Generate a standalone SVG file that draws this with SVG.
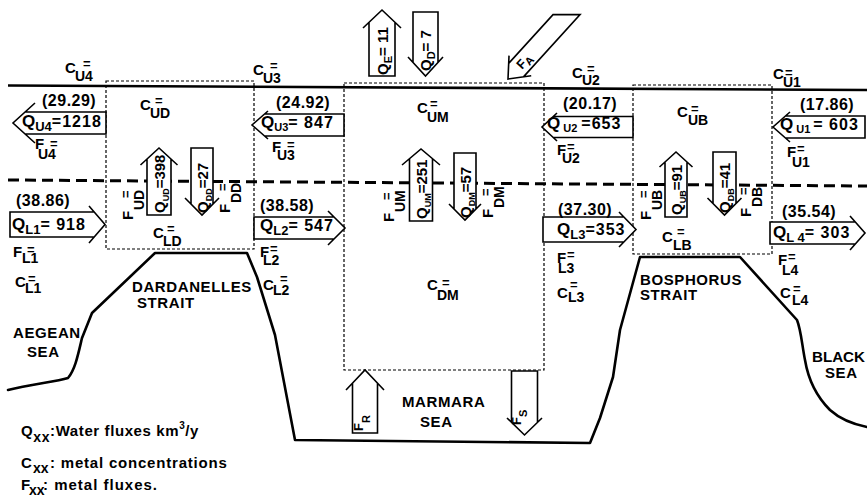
<svg xmlns="http://www.w3.org/2000/svg" width="867" height="497" viewBox="0 0 867 497">
<style>
.b{font-family:"Liberation Sans",Arial,Helvetica,sans-serif;font-weight:bold;fill:#000}
.m{font-size:15px}
.s{font-size:14px}
.e{font-size:13px}
.t{font-size:9px}
.n{font-size:16px;letter-spacing:0.5px}
.qq{font-size:16px;letter-spacing:1px}
.qb{font-size:17px}
.ss{font-size:13px}
.p{font-size:15px;letter-spacing:0.6px}
.coast{fill:none;stroke:#000;stroke-width:2.6;stroke-linejoin:round;stroke-linecap:round}
.box{fill:none;stroke:#000;stroke-width:1.2;stroke-dasharray:3 2}
.ar{fill:#fff;stroke:#000;stroke-width:1.6;stroke-linejoin:miter}
</style>
<rect width="867" height="497" fill="#fff"/>

<g id="coast">
<path class="coast" d="M8,390 C30,384 55,382 68,378 C75,370 78,355 82,338 L92,313 L155,253 L247,253 L257,277 L275,335 L295,440 L590,443 L600,418 L613,377 L620,330 L640,257 L740,257 L797,320 C801,330 802,345 805,360 C808,378 815,395 830,410 C840,419 852,424 867,427"/>
</g>

<g id="levels">
<path d="M8,85.5 L867,90" stroke="#000" stroke-width="2.6" fill="none"/>
<path d="M8,180 L867,186" stroke="#000" stroke-width="3" stroke-dasharray="11 6" fill="none"/>
</g>

<g id="box-dardanelles"><rect class="box" x="106" y="81" width="148" height="168"/></g>
<g id="box-marmara"><rect class="box" x="344" y="83" width="200" height="287"/></g>
<g id="box-bosphorus"><rect class="box" x="633" y="85" width="139" height="169"/></g>

<g id="connectors">
<path class="ar" d="M363,28 L382,10 L401,28 M395,22.3 L395,76 L369,76 L369,22.3"/>
<path class="ar" d="M408,57 L425.5,76 L443,57 M438,62.4 L438,12 L413,12 L413,62.4"/>
<path class="ar" d="M140.5,165 L159,148 L177.5,165 M171,159 L171,215 L147,215 L147,159"/>
<path class="ar" d="M185,198 L202,215 L219,198 M213,204 L213,148 L191,148 L191,204"/>
<path class="ar" d="M402,165 L421,149 L440,165 M432.5,158.7 L432.5,221 L409.5,221 L409.5,158.7"/>
<path class="ar" d="M449,204 L465,220 L481,204 M476,209 L476,153 L454,153 L454,209"/>
<path class="ar" d="M659.5,167 L676,152 L692.5,167 M687,162 L687,217 L665,217 L665,162"/>
<path class="ar" d="M707.5,198 L724.5,215 L741.5,198 M736,203.5 L736,152 L713,152 L713,203.5"/>
<path class="ar" d="M346,390 L365,370 L384,390 M377.5,383.2 L377.5,433 L352.5,433 L352.5,383.2"/>
<path class="ar" d="M507,418 L524.5,435 L542,418 M537.5,422.4 L537.5,371 L511.5,371 L511.5,422.4"/>
<path class="ar" d="M35,103 L13,123 L35,143 M25.1,112 L106,112 L106,134 L25.1,134"/>
<path class="ar" d="M268,111 L252,125 L268,139 M264.6,114 L344,114 L344,136 L264.6,136"/>
<path class="ar" d="M557,113 L542,127 L557,141 M553.3,116.5 L633,116.5 L633,137.5 L553.3,137.5"/>
<path class="ar" d="M790,112 L773,127 L790,142 M785.5,116 L865,116 L865,138 L785.5,138"/>
<path class="ar" d="M89,206 L105,224.5 L89,243 M94.2,212 L10,212 L10,237 L94.2,237"/>
<path class="ar" d="M328,211 L345,228 L328,245 M334,217 L254,217 L254,239 L334,239"/>
<path class="ar" d="M619,212 L636,229.5 L619,247 M623.9,217 L543,217 L543,242 L623.9,242"/>
<path class="ar" d="M850,216 L865,233 L850,250 M855.3,222 L770,222 L770,244 L855.3,244"/>
<path class="ar" transform="translate(508,79) rotate(132.3)" d="M-18,-15 L0,0 L-18,15 M-12,10 L-77.9,10 L-96.1,-10 L-12,-10"/>
</g>

<g id="flux-labels">
<text class="b m" transform="translate(387.5,75) rotate(-90)">Q<tspan style="font-size:11px" dy="4">E</tspan><tspan dy="-4">= 11</tspan></text>
<text class="b m" transform="translate(431,71) rotate(-90)">Q<tspan style="font-size:11px" dy="4">D</tspan><tspan dy="-4">= 7</tspan></text>
<text class="b m" transform="translate(164.5,213) rotate(-90)">Q<tspan class="t" dy="4">UD</tspan><tspan dy="-4">=398</tspan></text>
<text class="b m" transform="translate(207.5,213) rotate(-90)">Q<tspan class="t" dy="4">DD</tspan><tspan dy="-4">=27</tspan></text>
<text class="b m" transform="translate(426.5,219) rotate(-90)">Q<tspan class="t" dy="4">UM</tspan><tspan dy="-4">=251</tspan></text>
<text class="b m" transform="translate(470.5,218) rotate(-90)">Q<tspan class="t" dy="4">DM</tspan><tspan dy="-4">=57</tspan></text>
<text class="b m" transform="translate(681.5,215) rotate(-90)">Q<tspan class="t" dy="4">UB</tspan><tspan dy="-4">=91</tspan></text>
<text class="b m" transform="translate(730,213) rotate(-90)">Q<tspan class="t" dy="4">DB</tspan><tspan dy="-4">=41</tspan></text>
<text class="b" style="font-size:13px" transform="translate(363,431) rotate(-90)">F<tspan style="font-size:11px" dy="7">R</tspan></text>
<text class="b" style="font-size:13px" transform="translate(521,425) rotate(-90)">F<tspan style="font-size:11px" dy="6">S</tspan></text>
<text class="b" style="font-size:13px" transform="translate(522,70) rotate(-47.7)">F<tspan style="font-size:11px" dy="3">A</tspan></text>

<text class="b n" x="42" y="106">(29.29)</text>
<text class="b qb" x="22" y="127">Q<tspan class="ss" dy="4">U4</tspan><tspan class="qq" dy="-4">=1218</tspan></text>
<text class="b n" x="276" y="108">(24.92)</text>
<text class="b qb" x="261" y="128">Q<tspan style="font-size:11px" dy="3">U3</tspan><tspan class="qq" dy="-3">= 847</tspan></text>
<text class="b n" x="563" y="109">(20.17)</text>
<text class="b qb" x="547" y="129">Q<tspan style="font-size:11px" dx="3" dy="3">U2</tspan><tspan class="qq" dx="4" dy="-3">=653</tspan></text>
<text class="b n" x="800" y="110">(17.86)</text>
<text class="b qb" x="780" y="130">Q<tspan style="font-size:11px" dx="3" dy="3">U1</tspan><tspan class="qq" dx="3" dy="-3">= 603</tspan></text>

<text class="b n" x="16" y="206">(38.86)</text>
<text class="b qb" x="12" y="230">Q<tspan class="ss" dy="4">L1</tspan><tspan class="qq" dy="-4">= 918</tspan></text>
<text class="b n" x="260" y="211">(38.58)</text>
<text class="b qb" x="260" y="231">Q<tspan class="ss" dy="4">L2</tspan><tspan class="qq" dy="-4">= 547</tspan></text>
<text class="b n" x="558" y="215">(37.30)</text>
<text class="b qb" x="557" y="235">Q<tspan class="ss" dy="4">L3</tspan><tspan class="qq" dy="-4">=353</tspan></text>
<text class="b n" x="782" y="217">(35.54)</text>
<text class="b qb" x="773" y="238">Q<tspan class="ss" dy="4">L 4</tspan><tspan class="qq" dy="-4">= 303</tspan></text>
</g>

<g id="conc-labels">
<text class="b m" x="65" y="73">C<tspan class="s" x="75" y="81">U4</tspan><tspan class="e" x="83" y="68">=</tspan></text>
<text class="b m" x="253" y="75">C<tspan class="s" x="263" y="83">U3</tspan><tspan class="e" x="270" y="70">=</tspan></text>
<text class="b m" x="140" y="110">C<tspan class="s" x="150" y="118">UD</tspan><tspan class="e" x="155" y="105">=</tspan></text>
<text class="b m" x="417" y="113">C<tspan class="s" x="427" y="122">UM</tspan><tspan class="e" x="430" y="108">=</tspan></text>
<text class="b m" x="572" y="78">C<tspan class="s" x="582" y="85">U2</tspan><tspan class="e" x="587" y="73">=</tspan></text>
<text class="b m" x="773" y="79">C<tspan class="s" x="783" y="87">U1</tspan><tspan class="e" x="785" y="77">=</tspan></text>
<text class="b m" x="677" y="117">C<tspan class="s" x="688" y="125">UB</tspan><tspan class="e" x="691" y="113">=</tspan></text>
<text class="b m" x="153" y="238">C<tspan class="s" x="163" y="246">LD</tspan><tspan class="e" x="167" y="233">=</tspan></text>
<text class="b m" x="662" y="242">C<tspan class="s" x="673" y="250">LB</tspan><tspan class="e" x="677" y="236">=</tspan></text>
<text class="b m" x="427" y="290">C<tspan class="s" x="437" y="300">DM</tspan><tspan class="e" x="442" y="287">=</tspan></text>
<text class="b m" x="15" y="287">C<tspan class="s" x="25" y="293">L1</tspan><tspan class="e" x="28" y="283">=</tspan></text>
<text class="b m" x="263" y="290">C<tspan class="s" x="273" y="295">L2</tspan><tspan class="e" x="280" y="283">=</tspan></text>
<text class="b m" x="557" y="298">C<tspan class="s" x="568" y="302">L3</tspan><tspan class="e" x="570" y="289">=</tspan></text>
<text class="b m" x="780" y="298">C<tspan class="s" x="792" y="305">L4</tspan><tspan class="e" x="793" y="293">=</tspan></text>

<text class="b m" x="35" y="149">F<tspan class="s" x="38" y="159">U4</tspan><tspan class="e" x="50" y="148">=</tspan></text>
<text class="b m" x="272" y="152">F<tspan class="s" x="277" y="160">U3</tspan><tspan class="e" x="287" y="149">=</tspan></text>
<text class="b m" x="557" y="155">F<tspan class="s" x="562" y="163">U2</tspan><tspan class="e" x="567" y="151">=</tspan></text>
<text class="b m" x="787" y="157">F<tspan class="s" x="792" y="167">U1</tspan><tspan class="e" x="797" y="153">=</tspan></text>
<text class="b m" x="13" y="257">F<tspan class="s" x="22" y="263">L1</tspan><tspan class="e" x="27" y="254">=</tspan></text>
<text class="b m" x="260" y="257">F<tspan class="s" x="263" y="265">L2</tspan><tspan class="e" x="270" y="253">=</tspan></text>
<text class="b m" x="557" y="263">F<tspan class="s" x="558" y="273">L3</tspan><tspan class="e" x="567" y="259">=</tspan></text>
<text class="b m" x="778" y="265">F<tspan class="s" x="782" y="275">L4</tspan><tspan class="e" x="788" y="261">=</tspan></text>

<text class="b m" transform="translate(133,220) rotate(-90)">F<tspan class="s" x="10" y="11">UD</tspan><tspan class="e" x="22" y="-3">=</tspan></text>
<text class="b m" transform="translate(230,213) rotate(-90)">F<tspan class="s" x="10" y="11">DD</tspan><tspan class="e" x="22" y="-3">=</tspan></text>
<text class="b m" transform="translate(394,222) rotate(-90)">F<tspan class="s" x="10" y="11">UM</tspan><tspan class="e" x="22" y="-3">=</tspan></text>
<text class="b m" transform="translate(493,218) rotate(-90)">F<tspan class="s" x="10" y="11">DM</tspan><tspan class="e" x="22" y="-3">=</tspan></text>
<text class="b m" transform="translate(651,220) rotate(-90)">F<tspan class="s" x="10" y="11">UB</tspan><tspan class="e" x="22" y="-3">=</tspan></text>
<text class="b m" transform="translate(751,217) rotate(-90)">F<tspan class="s" x="10" y="11">DB</tspan><tspan class="e" x="22" y="-3">=</tspan></text>
</g>

<g id="sea-aegean"><text class="b p" x="13" y="338">AEGEAN</text><text class="b p" x="27" y="357">SEA</text></g>
<g id="strait-dardanelles"><text class="b p" x="132" y="292">DARDANELLES</text><text class="b p" x="137" y="308">STRAIT</text></g>
<g id="sea-marmara"><text class="b p" x="402" y="407">MARMARA</text><text class="b p" x="420" y="427">SEA</text></g>
<g id="strait-bosphorus"><text class="b p" x="640" y="285">BOSPHORUS</text><text class="b p" x="640" y="300">STRAIT</text></g>
<g id="sea-black"><text class="b" style="font-size:15px" x="812" y="362" textLength="53" lengthAdjust="spacingAndGlyphs">BLACK</text><text class="b p" x="825" y="378">SEA</text></g>

<g id="legend">
<text class="b m" x="21" y="436" style="letter-spacing:0.6px">Q<tspan class="s" dy="6">xx</tspan><tspan dy="-6">:Water fluxes km</tspan><tspan style="font-size:10px" dy="-7">3</tspan><tspan dy="7">/y</tspan></text>
<text class="b m" x="21" y="468">C<tspan class="s" x="33" y="473">xx</tspan><tspan x="50" y="468" style="letter-spacing:0.8px">: metal concentrations</tspan></text>
<text class="b m" x="21" y="490">F<tspan class="s" x="29" y="495">xx</tspan><tspan x="43" y="490" style="letter-spacing:1px">:  metal fluxes.</tspan></text>
</g>
</svg>
